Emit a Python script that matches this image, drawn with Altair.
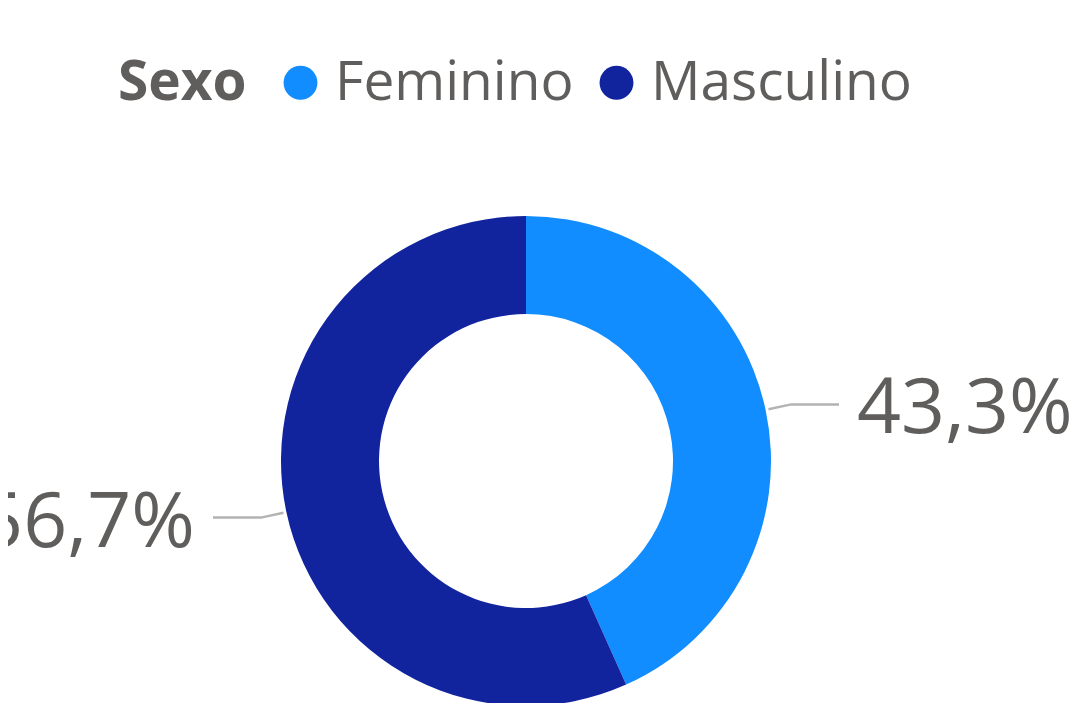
import altair as alt
import pandas as pd
import numpy as np

categories = ["Feminino", "Masculino"]
values = [43.3, 56.7]
labels = ["43,3%", "56,7%"]
colors = ["#118DFF", "#12239E"]

TEXT = "#605E5C"
FONT = "Open Sans"
CX, CY = 518, 453
R_OUT, R_IN = 245, 147

df = pd.DataFrame({"Sexo": categories, "value": values, "label": labels,
                   "ord": list(range(len(categories)))})

# leader line geometry derived from slice angles
total = sum(values)
cum = 0.0
line_rows, text_rows = [], []
for cat, v, lab in zip(categories, values, labels):
    a = 2 * np.pi * (cum + v / 2) / total
    cum += v
    dx, dy = np.sin(a), -np.cos(a)
    s = 1 if dx >= 0 else -1
    p0 = (CX + (R_OUT + 3) * dx, CY + (R_OUT + 3) * dy)
    p1 = (CX + (R_OUT + 26) * dx, CY + (R_OUT + 26) * dy)
    p2 = (p1[0] + s * 48, p1[1])
    for i, p in enumerate([p0, p1, p2]):
        line_rows.append({"Sexo": cat, "i": i, "px": p[0], "py": p[1]})
    text_rows.append({"Sexo": cat, "label": lab, "px": p2[0] + s * 18, "py": p2[1] + 6,
                      "side": "right" if s > 0 else "left"})
lines = pd.DataFrame(line_rows)
texts = pd.DataFrame(text_rows)

color_scale = alt.Scale(domain=categories, range=colors)

donut = alt.Chart(df).mark_arc(innerRadius=R_IN, outerRadius=R_OUT).encode(
    theta=alt.Theta("value:Q", stack=True),
    color=alt.Color("Sexo:N", scale=color_scale, legend=alt.Legend(
        title="Sexo", orient="none", legendX=110, legendY=47, direction="horizontal",
        titleOrient="left", titleFontSize=55, titleFont=FONT, titleFontWeight="bold",
        titleColor=TEXT, titlePadding=26, titleBaseline="middle", titleLimit=0,
        labelFontSize=55, labelFont=FONT, labelColor=TEXT, labelOffset=7, labelLimit=0,
        symbolType="circle", symbolSize=1150, symbolStrokeWidth=0, symbolOpacity=1,
        columnPadding=15, padding=0)),
    order=alt.Order("ord:Q"),
    x=alt.value(CX), y=alt.value(CY),
)

leaders = alt.Chart(lines).mark_line(color="#B3B3B3", strokeWidth=2.5).encode(
    x=alt.X("px:Q", scale=None, axis=None),
    y=alt.Y("py:Q", scale=None, axis=None),
    detail="Sexo:N",
    order="i:Q",
)

txt_r = alt.Chart(texts).transform_filter("datum.side == 'right'").mark_text(
    align="left", baseline="middle", fontSize=77, font=FONT, color=TEXT).encode(
    x=alt.X("px:Q", scale=None, axis=None), y=alt.Y("py:Q", scale=None, axis=None),
    text="label:N")
txt_l = alt.Chart(texts).transform_filter("datum.side == 'left'").mark_text(
    align="right", baseline="middle", fontSize=77, font=FONT, color=TEXT).encode(
    x=alt.X("px:Q", scale=None, axis=None), y=alt.Y("py:Q", scale=None, axis=None),
    text="label:N")

chart = alt.layer(donut, leaders, txt_r, txt_l).properties(
    width=1066, height=695, padding=0,
    autosize=alt.AutoSizeParams(type="none"),
).configure_view(stroke=None)

chart.save("out.html", embed_options={"renderer": "svg", "actions": False})
